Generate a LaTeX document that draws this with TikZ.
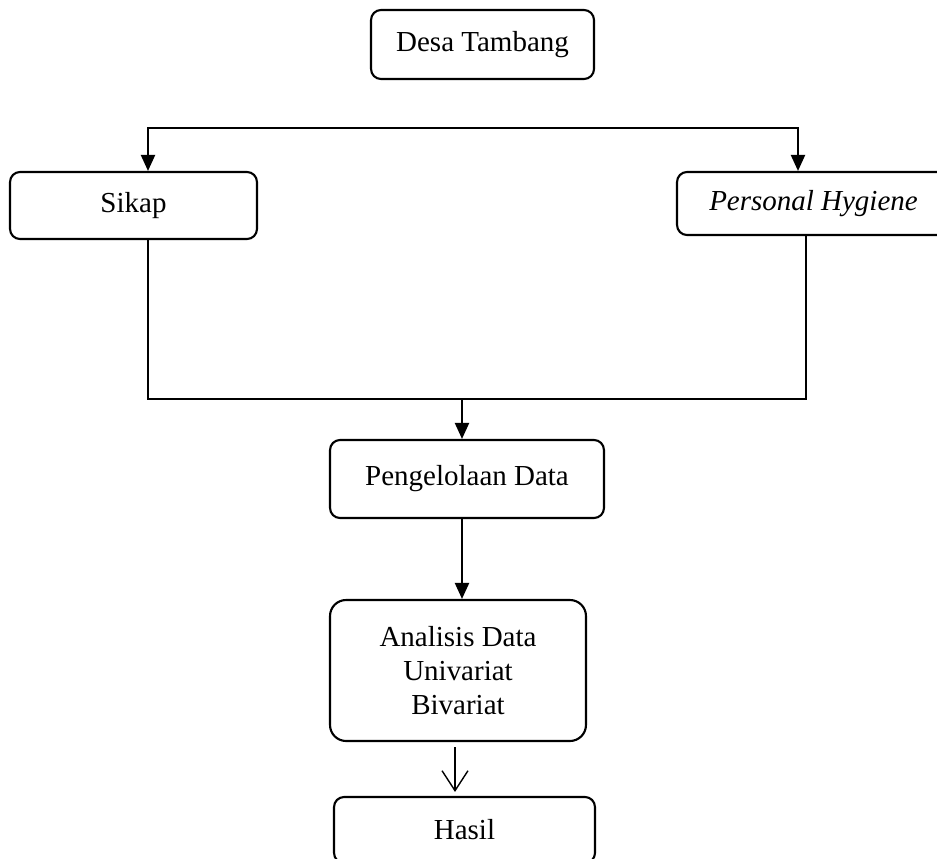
\documentclass[tikz,border=0pt]{standalone}
\usepackage{fontspec}
\setmainfont{Liberation Serif}
\usetikzlibrary{arrows.meta,calc}

\begin{document}
\begin{tikzpicture}[x=0.02cm,y=-0.02cm,
		box/.style={draw,line width=1.2pt,rounded corners=0.2cm,align=center,inner sep=0pt,font=\fontsize{16.5}{19.5}\selectfont},
		link/.style={line width=1.2pt},
		tip/.tip={Triangle[length=0.32cm,width=0.28cm]},
		arr/.style={link,-tip},
		openarr/.style={line width=0.8pt,-{Straight Barb[length=0.4cm,width=0.52cm,line width=0.8pt]}}]
		\useasboundingbox (0,0) rectangle (937,859);
		\clip (0,0) rectangle (937,859);

		\node[box,minimum width=4.46cm,minimum height=1.38cm] (desa) at (482.5,44.5) {Desa Tambang};
		\node[box,minimum width=4.94cm,minimum height=1.34cm] (sikap) at (133.5,205.5) {Sikap};
		\node[box,minimum width=5.46cm,minimum height=1.26cm] (ph) at (813.5,203.5) {\itshape Personal Hygiene};
		\node[box,minimum width=5.48cm,minimum height=1.56cm] (olah) at (467,479) {\raisebox{0.1cm}{Pengelolaan Data}};
		\node[box,rounded corners=0.32cm,minimum width=5.12cm,minimum height=2.82cm] (analisis) at (458,670.5) {Analisis Data\\Univariat\\Bivariat};
		\node[box,minimum width=5.22cm,minimum height=1.32cm] (hasil) at (464.5,830) {Hasil};

		% percabangan atas
		\coordinate (tl) at (148,128);
		\coordinate (tr) at (798,128);
		\draw[link,tip-tip] (tl |- sikap.north) -- (tl) -- (tr) -- (tr |- ph.north);

		% penggabungan bawah
		\coordinate (bl) at (148,399);
		\coordinate (br) at (806,399);
		\coordinate (mid) at (462,399);
		\draw[link] (bl |- sikap.south) -- (bl) -- (br) -- (br |- ph.south);
		\draw[arr] (mid) -- (mid |- olah.north);
		\draw[arr] (mid |- olah.south) -- (mid |- analisis.north);

		\coordinate (a1) at (455,747);
		\draw[openarr,shorten >=0.08cm] (a1) -- (a1 |- hasil.north);
	\end{tikzpicture}
\end{document}
